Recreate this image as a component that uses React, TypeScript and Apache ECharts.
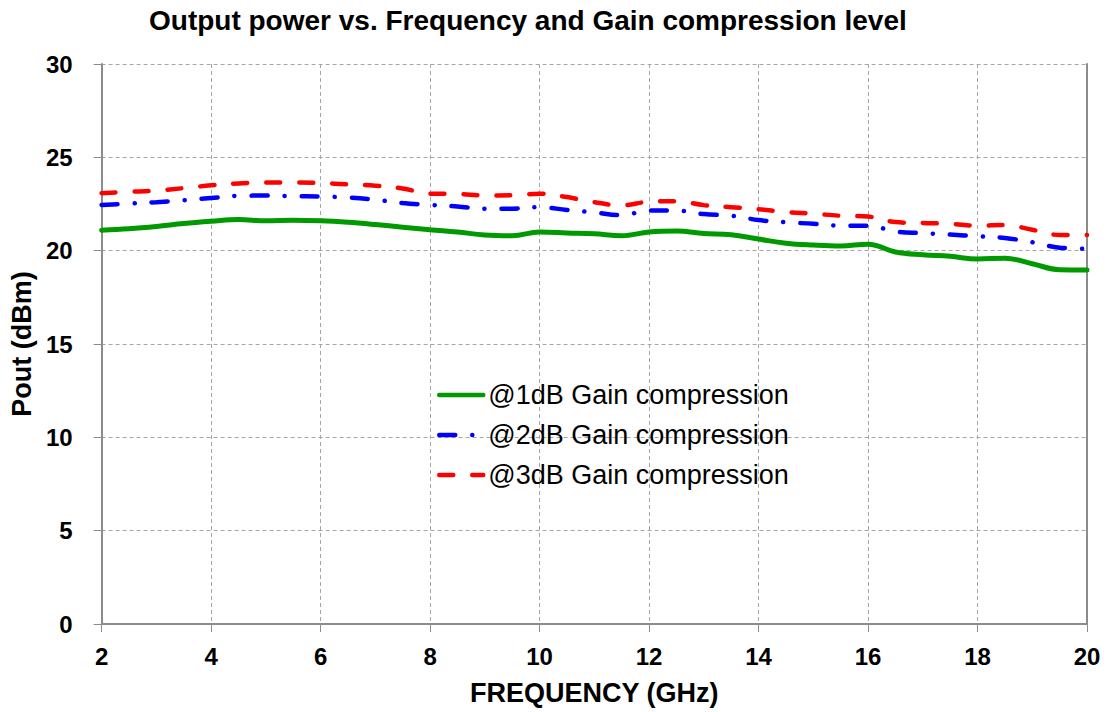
import React, { useEffect, useRef } from "react";
import * as echarts from "echarts";

const frequency = [2, 2.5, 3, 3.5, 4, 4.5, 5, 5.5, 6, 6.5, 7, 7.5, 8, 8.5, 9, 9.5, 10, 10.5, 11, 11.5, 12, 12.5, 13, 13.5, 14, 14.5, 15, 15.5, 16, 16.5, 17, 17.5, 18, 18.5, 19, 19.5, 20];

const gain1dB = [21.1, 21.18, 21.3, 21.45, 21.57, 21.67, 21.6, 21.63, 21.6, 21.52, 21.4, 21.26, 21.12, 21.0, 20.84, 20.8, 21.0, 20.95, 20.9, 20.8, 21.0, 21.05, 20.92, 20.85, 20.62, 20.4, 20.3, 20.25, 20.35, 19.93, 19.78, 19.7, 19.55, 19.6, 19.3, 18.98, 18.97];

const gain2dB = [22.45, 22.52, 22.6, 22.7, 22.82, 22.94, 22.95, 22.92, 22.9, 22.85, 22.73, 22.55, 22.45, 22.37, 22.24, 22.25, 22.33, 22.18, 22.05, 21.9, 22.15, 22.15, 21.96, 21.87, 21.64, 21.52, 21.44, 21.34, 21.34, 21.03, 20.94, 20.86, 20.77, 20.68, 20.45, 20.16, 20.1];

const gain3dB = [23.08, 23.15, 23.22, 23.35, 23.5, 23.6, 23.65, 23.65, 23.62, 23.55, 23.48, 23.33, 23.05, 23.04, 22.96, 22.97, 23.05, 22.87, 22.6, 22.43, 22.62, 22.65, 22.44, 22.33, 22.22, 22.07, 21.98, 21.87, 21.83, 21.53, 21.48, 21.44, 21.34, 21.37, 21.12, 20.84, 20.84];

const seriesNames = ["@1dB Gain compression", "@2dB Gain compression", "@3dB Gain compression"];

const FONT = "'Liberation Sans', Arial, Helvetica, sans-serif";

export default function App() {
  const ref = useRef<HTMLDivElement>(null);

  useEffect(() => {
    document.body.style.margin = "0";
    if (!ref.current) return;
    const chart = echarts.init(ref.current, null, { renderer: "svg" });
    const pair = (ys: number[]) => frequency.map((f, i) => [f, ys[i]]);
    const axisGray = "#8c8c8c";
    const gridGray = "#a6a6a6";

    chart.setOption({
      animation: false,
      backgroundColor: "#ffffff",
      textStyle: { fontFamily: FONT },
      title: {
        text: "Output power vs. Frequency and Gain compression level",
        left: 144,
        top: 1,
        textStyle: { fontFamily: FONT, fontSize: 28, fontWeight: "bold", color: "#000" },
      },
      grid: { left: 97, right: 20, top: 64, bottom: 88, containLabel: false },
      legend: {
        orient: "vertical",
        left: 437,
        top: 380,
        padding: 0,
        itemWidth: 44,
        itemHeight: 14,
        itemGap: 10,
        data: seriesNames,
        itemStyle: { opacity: 0 },
        lineStyle: { width: 4.5 },
        textStyle: { fontFamily: FONT, fontSize: 27, color: "#000", lineHeight: 30 },
      },
      xAxis: {
        type: "value",
        min: 2,
        max: 20,
        interval: 2,
        name: "FREQUENCY (GHz)",
        nameLocation: "middle",
        nameGap: 55,
        nameTextStyle: { fontFamily: FONT, fontSize: 27, fontWeight: "bold", color: "#000" },
        axisLine: { show: true, onZero: false, lineStyle: { color: axisGray, width: 2 } },
        axisTick: { show: true, inside: false, length: 8, lineStyle: { color: axisGray, width: 1 } },
        axisLabel: { margin: 20, fontFamily: FONT, fontSize: 24, fontWeight: "bold", color: "#000" },
        splitLine: { show: true, lineStyle: { color: gridGray, type: [4, 3], width: 1 } },
      },
      yAxis: [
        {
          type: "value",
          min: 0,
          max: 30,
          interval: 5,
          name: "Pout (dBm)",
          nameLocation: "middle",
          nameGap: 60,
          nameTextStyle: { fontFamily: FONT, fontSize: 27, fontWeight: "bold", color: "#000" },
          axisLine: { show: true, lineStyle: { color: axisGray, width: 2 } },
          axisTick: { show: true, inside: false, length: 8, lineStyle: { color: axisGray, width: 1 } },
          axisLabel: { margin: 29, fontFamily: FONT, fontSize: 24, fontWeight: "bold", color: "#000" },
          splitLine: { show: true, lineStyle: { color: gridGray, type: [4, 3], width: 1 } },
        },
        {
          type: "value",
          min: 0,
          max: 30,
          interval: 5,
          position: "right",
          axisLine: { show: true, lineStyle: { color: axisGray, width: 2 } },
          axisTick: { show: false },
          axisLabel: { show: false },
          splitLine: { show: false },
        },
      ],
      series: [
        {
          name: seriesNames[0],
          type: "line",
          data: pair(gain1dB),
          symbol: "none",
          showSymbol: false,
          smooth: 0.4,
          color: "#009a00",
          lineStyle: { color: "#009a00", width: 5, cap: "round" },
        },
        {
          name: seriesNames[1],
          type: "line",
          data: pair(gain2dB),
          symbol: "none",
          showSymbol: false,
          smooth: 0.4,
          color: "#0000ff",
          lineStyle: { color: "#0000ff", width: 4.5, type: [16, 17, 0.1, 17], cap: "round" },
        },
        {
          name: seriesNames[2],
          type: "line",
          data: pair(gain3dB),
          symbol: "none",
          showSymbol: false,
          smooth: 0.4,
          color: "#ff0000",
          lineStyle: { color: "#ff0000", width: 4.5, type: [14, 19], cap: "round" },
        },
      ],
    });

    return () => chart.dispose();
  }, []);

  return <div ref={ref} style={{ width: 1107, height: 712 }} />;
}
